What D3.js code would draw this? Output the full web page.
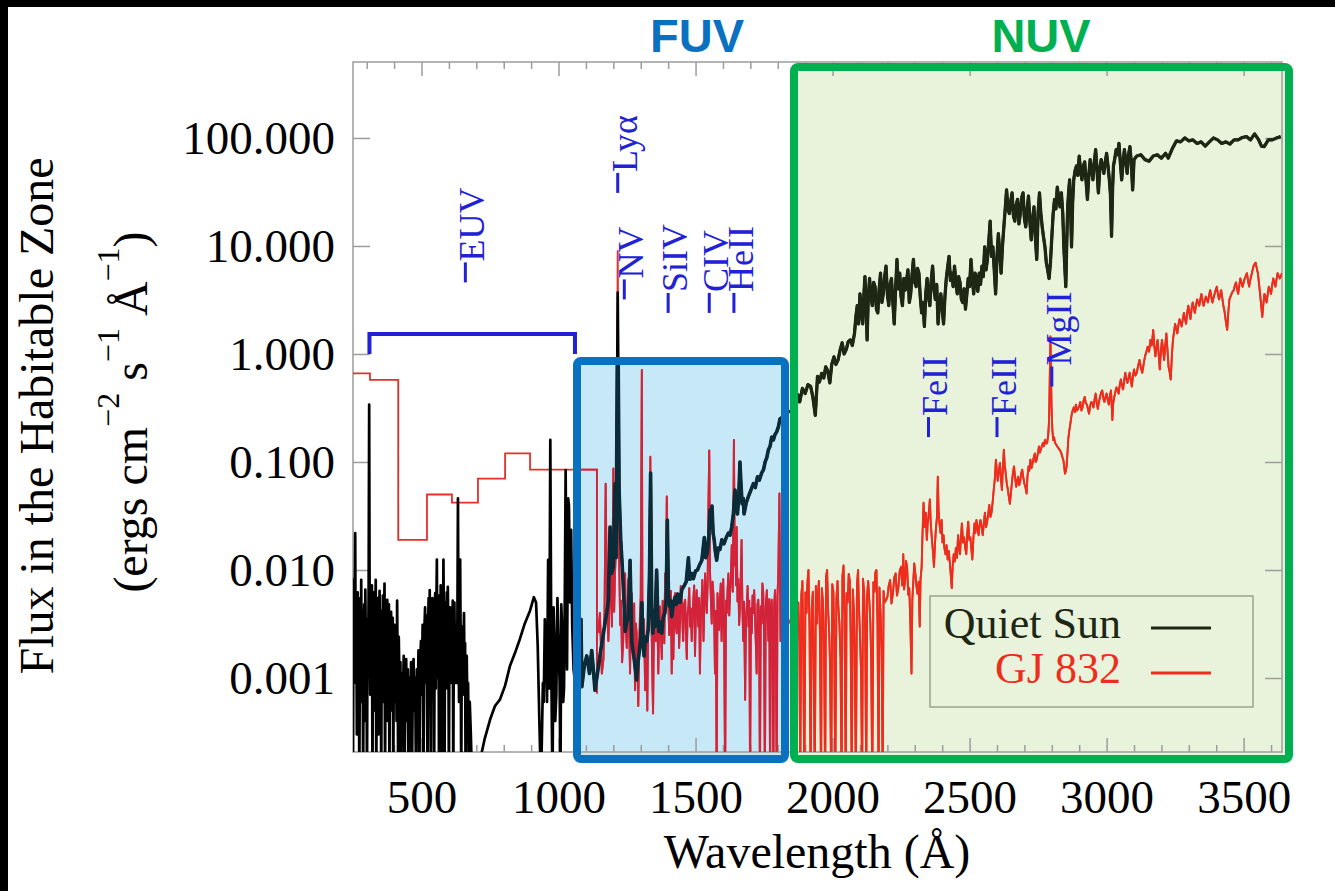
<!DOCTYPE html>
<html>
<head>
<meta charset="utf-8">
<script src="https://cdn.jsdelivr.net/npm/d3@7"></script>
<style>
  body { margin: 0; background: #fff; }
  svg { display: block; }
</style>
</head>
<body>
<div id="chart"></div>
<script>
// tick values
var xMajor = [500, 1000, 1500, 2000, 2500, 3000, 3500];
var xMinor = d3.range(300, 3700, 100).filter(function (d) { return d % 500 !== 0; });
var yTicks = [0.001, 0.01, 0.1, 1, 10, 100];

// Quiet Sun spectrum [wavelength (A), flux]
var quietSun = [
  [250,1e-4],[252,0.0081],[254,0.0012],[256,0.0035],[258,0.022],[260,0.0009],[262,0.0045],[264,0.0003],
  [267,0.0062],[269,0.0015],[271,0.0038],[273,1e-4],[276,0.0055],[278,0.0011],[280,0.0081],[282,0.0006],
  [285,0.0042],[287,1e-4],[289,0.0025],[291,0.0048],[293,0.0004],[295,0.0066],[297,0.0018],[299,0.0035],
  [301,1e-4],[303,0.0028],[305,0.0012],[307,0.0058],[309,0.34],[311,0.002],[313,0.0007],[315,0.0045],
  [317,0.0016],[319,0.0072],[321,1e-4],[323,0.0039],[325,0.0011],[327,0.0062],[329,0.0005],[331,0.0033],
  [333,0.0081],[335,1e-4],[337,0.0047],[339,0.0013],[341,0.0055],[343,0.0003],[345,0.0028],[347,0.0064],
  [349,0.0009],[351,0.0042],[353,1e-4],[355,0.0036],[357,0.0012],[359,0.0058],[361,0.0006],[363,0.0031],
  [365,0.0075],[367,1e-4],[369,0.0044],[371,0.001],[373,0.0022],[375,0.0053],[377,0.0004],[379,0.0036],
  [381,0.0048],[383,1e-4],[385,0.0027],[387,0.0009],[389,0.0041],[391,0.0005],[393,0.0024],[395,0.0036],
  [397,1e-4],[399,0.0019],[401,0.0031],[403,0.0006],[405,0.0019],[407,0.0028],[409,0.0004],[411,0.0052],
  [413,0.0011],[415,1e-4],[417,0.0024],[420,0.0008],[423,0.0014],[426,1e-4],[429,0.0011],[432,0.0006],
  [435,0.0016],[438,1e-4],[441,0.0009],[444,0.0015],[447,0.0004],[450,0.0012],[453,1e-4],[456,0.001],
  [459,0.0005],[462,0.0014],[465,1e-4],[468,0.0008],[471,0.0015],[474,0.0005],[477,0.001],[480,1e-4],
  [483,0.0012],[486,0.0006],[489,0.0018],[492,1e-4],[495,0.0014],[498,0.0022],[501,0.0007],[504,0.0031],
  [507,1e-4],[510,0.0026],[513,0.0045],[516,0.0009],[519,0.0038],[522,1e-4],[524,0.0031],[526,0.0055],
  [528,0.0012],[530,0.0065],[532,0.002],[534,1e-4],[536,0.0042],[538,0.0012],[540,0.0055],[542,0.0021],
  [544,0.0035],[546,1e-4],[548,0.0028],[550,0.0061],[552,0.0008],[554,0.004],[556,0.0125],[558,0.001],
  [560,0.0036],[562,0.0058],[564,1e-4],[566,0.0038],[568,0.0014],[570,0.0072],[572,0.003],[574,1e-4],
  [576,0.0048],[578,0.0016],[580,0.0125],[582,0.0022],[584,1e-4],[586,0.005],[588,0.0034],[590,0.0011],
  [592,0.0062],[594,0.0008],[596,0.007],[598,0.0025],[600,1e-4],[602,0.0031],[604,0.0045],[606,0.0009],
  [608,0.0038],[610,0.0012],[612,0.0029],[614,0.0052],[616,1e-4],[618,0.0034],[620,0.005],[622,0.0015],
  [624,0.0009],[626,0.0028],[628,0.0009],[631,0.0035],[633,0.046],[635,0.0022],[637,0.0006],[639,0.004],
  [641,0.0125],[643,0.0018],[645,1e-4],[647,0.0026],[649,0.003],[651,0.0007],[653,0.0018],[655,0.004],
  [657,0.0009],[659,0.0021],[661,1e-4],[663,0.0012],[665,0.0016],[668,0.0004],[670,0.0009],[673,1e-4],
  [676,0.0006],[680,0.0003],[685,1e-4],[700,1e-4],[715,0.00018],[730,0.00027],[750,0.00041],[768,0.00055],
  [786,0.00063],[805,0.00085],[823,0.0013],[841,0.0017],[859,0.0023],[877,0.0032],[896,0.0042],[910,0.0056],
  [918,0.005],[924,0.002],[930,0.0004],[936,1e-4],[943,0.0009],[946,0.0006],[950,0.0035],[955,0.0018],
  [958,0.0006],[962,0.0124],[966,0.0008],[970,0.16],[974,0.001],[978,1e-4],[982,0.0045],[985,0.0023],
  [988,0.0004],[992,0.0007],[996,0.0055],[1000,0.0022],[1004,0.0009],[1007,1e-4],[1010,0.0048],[1013,0.003],
  [1017,0.0006],[1020,0.0008],[1023,0.0062],[1026,0.084],[1029,0.0035],[1031,0.0012],[1035,0.046],
  [1038,0.04],[1042,0.005],[1046,0.0235],[1050,0.003],[1055,0.0012],[1060,0.0009],[1065,0.0011],
  [1070,0.0007],[1078,0.0009],[1082,0.0035],
  [1085,0.00083],[1094,0.0013],[1103,0.0016],[1113,0.0011],[1121,0.0018],[1127,0.0012],[1133,0.00077],
  [1142,0.0011],[1151,0.0016],[1158,0.0021],[1164,0.0026],[1170,0.0033],[1176,0.004],[1182,0.0053],
  [1188,0.025],[1194,0.0093],[1200,0.0107],[1206,0.063],[1210,0.013],[1216,3.7],[1221,0.055],[1227,0.019],
  [1234,0.0093],[1240,0.0045],[1243,0.0027],[1249,0.0033],[1255,0.0037],[1261,0.0123],[1267,0.0022],
  [1276,0.0015],[1285,0.00096],[1290,0.0014],[1295,0.0018],[1300,0.0024],[1304,0.005],[1308,0.0021],
  [1312,0.0016],[1317,0.0024],[1322,0.0022],[1327,0.0028],[1332,0.0093],[1336,0.079],[1340,0.0045],
  [1344,0.0026],[1348,0.0034],[1352,0.003],[1358,0.01],[1362,0.0038],[1366,0.0027],[1371,0.0033],
  [1377,0.0026],[1382,0.0036],[1388,0.004],[1393,0.0055],[1397,0.029],[1401,0.0062],[1405,0.0046],
  [1409,0.0052],[1413,0.0037],[1419,0.0049],[1425,0.0056],[1430,0.0048],[1434,0.006],[1439,0.0058],
  [1443,0.005],[1450,0.0066],[1458,0.0071],[1466,0.0078],[1474,0.013],[1478,0.0082],[1482,0.0083],
  [1487,0.0093],[1492,0.0083],[1500,0.0098],[1507,0.01],[1515,0.0112],[1523,0.0123],[1532,0.02],
  [1537,0.013],[1543,0.0145],[1548,0.02],[1553,0.036],[1556,0.025],[1560,0.039],[1564,0.022],[1568,0.019],
  [1572,0.015],[1577,0.0123],[1583,0.016],[1589,0.0155],[1596,0.019],[1604,0.0175],[1612,0.02],
  [1620,0.022],[1626,0.021],[1632,0.025],[1638,0.033],[1644,0.055],[1648,0.036],[1653,0.033],[1658,0.05],
  [1662,0.1],[1666,0.06],[1670,0.041],[1674,0.046],[1677,0.033],[1685,0.042],[1693,0.048],[1702,0.055],
  [1711,0.063],[1718,0.058],[1726,0.073],[1733,0.068],[1741,0.079],[1748,0.085],[1754,0.1],[1760,0.11],
  [1766,0.13],[1772,0.14],[1778,0.17],[1784,0.16],[1790,0.18],[1796,0.19],[1802,0.21],[1808,0.25],
  [1866,0.325],[1873,0.42],[1880,0.36],[1890,0.48],[1900,0.43],[1910,0.52],[1920,0.5],[1928,0.4],
  [1937,0.27],[1945,0.62],[1952,0.55],[1960,0.66],[1968,0.6],[1975,0.76],[1982,0.7],[1990,0.54],
  [1997,0.8],[2005,0.94],[2012,0.8],[2020,0.88],[2028,1.1],[2035,1.27],[2042,1.0],[2050,1.1],
  [2057,1.3],[2065,1.35],[2072,1.2],[2080,1.55],[2085,2.2],[2090,2.8],[2095,1.9],[2100,3.6],
  [2105,2.5],[2110,1.9],[2114,3.4],[2118,5.2],[2122,3.0],[2126,1.35],[2130,3.2],[2135,5.0],
  [2140,3.4],[2145,2.8],[2150,4.6],[2155,4.2],[2160,2.6],[2165,2.4],[2170,4.0],[2175,5.6],
  [2180,3.0],[2185,3.6],[2190,5.2],[2195,6.5],[2200,3.6],[2205,2.8],[2210,4.4],[2215,5.0],
  [2220,3.0],[2225,1.9],[2230,4.0],[2235,7.5],[2240,4.0],[2245,5.6],[2250,3.4],[2255,2.8],
  [2260,5.0],[2265,3.9],[2270,4.8],[2275,6.0],[2280,3.0],[2285,3.6],[2290,5.4],[2295,7.5],
  [2300,4.6],[2305,4.2],[2310,6.2],[2315,5.6],[2320,3.4],[2325,2.4],[2330,3.0],[2335,1.8],
  [2340,3.6],[2345,5.0],[2350,3.4],[2355,2.8],[2360,4.8],[2365,6.5],[2370,4.0],[2375,3.2],
  [2380,4.4],[2385,1.9],[2390,3.0],[2395,3.6],[2400,2.6],[2405,1.9],[2410,3.4],[2415,5.0],
  [2420,6.4],[2425,8.0],[2430,4.8],[2435,5.6],[2440,4.2],[2445,6.5],[2450,4.6],[2455,3.6],
  [2460,5.2],[2465,4.6],[2470,3.2],[2475,3.0],[2480,4.0],[2485,2.6],[2490,3.6],[2495,5.0],
  [2500,4.2],[2505,7.5],[2510,5.0],[2515,3.6],[2520,5.6],[2525,5.0],[2530,3.8],[2535,5.6],
  [2540,4.4],[2545,6.5],[2550,5.2],[2555,9.8],[2560,6.0],[2565,7.5],[2570,11],[2575,17],
  [2580,8.0],[2585,9.8],[2590,6.0],[2595,3.6],[2600,8.0],[2605,13],[2610,8.5],[2615,5.6],
  [2620,10],[2625,15],[2630,22],[2635,33],[2640,22],[2645,20],[2650,26],[2655,31],
  [2660,19],[2665,17],[2670,24],[2675,27],[2680,16],[2685,20],[2690,28],[2695,31],
  [2700,18],[2705,15],[2710,22],[2715,29],[2720,17],[2725,11.4],[2730,18],[2735,23],
  [2740,12],[2745,7.5],[2750,20],[2755,31],[2760,20],[2765,15],[2770,12],[2775,9.8],
  [2780,7.0],[2785,6.0],[2790,5.0],[2795,7.0],[2800,12],[2805,20],[2810,27],[2815,22],
  [2820,35],[2825,28],[2830,23],[2835,31],[2840,20],[2844,9.8],[2848,6.0],[2851,4.2],
  [2855,12],[2858,23],[2862,33],[2865,41],[2869,20],[2872,9.8],[2876,25],[2880,41],
  [2885,50],[2890,55],[2895,45],[2900,68],[2905,50],[2910,41],[2915,55],[2920,60],
  [2925,40],[2930,27],[2935,45],[2940,63],[2945,50],[2950,41],[2955,60],[2960,78],
  [2965,50],[2970,31],[2975,52],[2980,63],[2985,55],[2990,47],[2995,60],[3000,72],
  [3005,55],[3010,41],[3014,30],[3018,12.3],[3022,35],[3025,55],[3030,65],[3035,78],
  [3040,70],[3045,89],[3050,60],[3055,41],[3060,60],[3065,78],[3070,60],[3075,47],
  [3080,70],[3085,83],[3090,60],[3095,33],[3100,63],[3110,68],[3125,70],[3140,63],
  [3155,61],[3170,68],[3185,70],[3200,65],[3215,72],[3225,65],[3240,80],[3255,94],
  [3270,92],[3285,100],[3300,94],[3315,96],[3330,89],[3345,92],[3360,84],[3375,92],
  [3390,100],[3405,96],[3420,89],[3435,92],[3450,88],[3465,96],[3480,96],[3495,101],
  [3510,103],[3525,96],[3540,109],[3555,96],[3565,84],[3575,83],[3590,96],[3605,96],
  [3620,100],[3635,103]
];

// GJ 832 binned EUV estimate (step function)
var gj832Euv = [
  [250,0.66],[312,0.575],[415,0.019],[520,0.05],[611,0.042],[706,0.07],[805,0.12],[896,0.085],[1140,0.00072]
];

// GJ 832 spectrum [wavelength (A), flux]
var gj832 = [
  [1145,0.0026],[1151,0.004],[1158,0.0011],[1164,0.0015],[1168,0.0045],[1172,0.063],[1177,0.0046],
  [1182,0.0022],[1186,0.0052],[1190,0.0093],[1195,0.003],[1200,0.087],[1203,0.0041],[1206,0.0093],
  [1211,0.019],[1216,9.0],[1221,0.0134],[1225,0.0031],[1228,0.0052],[1232,0.0014],[1236,0.0022],
  [1240,0.0061],[1243,0.0093],[1246,0.0028],[1249,0.0019],[1252,0.0045],[1255,0.0082],[1258,0.0026],
  [1261,0.0011],[1264,0.0038],[1267,0.0061],[1270,0.0021],[1273,0.0028],[1276,0.0049],[1279,0.00077],
  [1282,0.0032],[1285,0.0026],[1288,0.0012],[1291,0.00055],[1294,0.0018],[1297,0.0037],[1300,0.0058],
  [1304,0.71],[1306,0.0051],[1309,0.0022],[1312,0.0035],[1316,0.00077],[1320,0.0024],[1324,0.0005],
  [1327,0.0031],[1330,0.004],[1335,0.112],[1338,0.0068],[1340,0.0026],[1342,0.0012],[1345,0.00047],
  [1348,0.0028],[1352,0.0046],[1355,0.0022],[1358,0.0061],[1361,0.0034],[1364,0.0011],[1367,0.0029],
  [1370,0.0046],[1374,0.0024],[1377,0.0015],[1380,0.0052],[1383,0.004],[1386,0.0021],[1389,0.0093],
  [1392,0.0058],[1395,0.048],[1398,0.012],[1401,0.0046],[1404,0.0025],[1407,0.0034],[1410,0.0064],
  [1413,0.0011],[1416,0.0035],[1419,0.0015],[1422,0.0042],[1425,0.0061],[1428,0.0031],[1431,0.0026],
  [1434,0.0058],[1437,0.0046],[1440,0.0019],[1443,0.0032],[1446,0.0071],[1449,0.0061],[1452,0.0034],
  [1455,0.0022],[1458,0.0048],[1462,0.0053],[1465,0.0027],[1468,0.0015],[1471,0.0039],[1474,0.0046],
  [1477,0.0068],[1480,0.003],[1483,0.0044],[1486,0.0022],[1489,0.0036],[1492,0.0053],[1495,0.0072],
  [1498,0.0016],[1501,0.0038],[1504,0.0065],[1507,0.0041],[1510,0.003],[1513,0.0055],[1516,0.0011],
  [1519,0.0033],[1522,0.0053],[1525,0.0081],[1529,0.0022],[1532,0.0047],[1535,0.0093],[1538,0.0056],
  [1541,0.004],[1544,0.0072],[1547,0.039],[1550,0.128],[1553,0.0093],[1556,0.0055],[1559,0.0032],
  [1562,0.0078],[1565,0.0061],[1568,0.0035],[1571,0.0011],[1574,0.0042],[1577,1e-4],[1580,0.0061],
  [1583,0.0046],[1586,0.0028],[1589,0.0053],[1592,0.0075],[1595,0.0022],[1598,0.0043],[1601,0.0082],
  [1604,0.0033],[1608,1e-4],[1611,0.0052],[1614,0.004],[1617,0.0067],[1620,0.0093],[1623,0.0038],
  [1626,0.0061],[1629,0.0085],[1632,0.017],[1636,0.0063],[1640,0.16],[1643,0.011],[1645,0.019],
  [1648,0.0072],[1650,0.025],[1653,0.0051],[1656,0.0082],[1659,0.0031],[1662,0.0046],[1665,0.0088],
  [1668,0.019],[1671,0.0045],[1674,0.0022],[1677,0.0051],[1681,0.00063],[1684,0.0035],[1687,0.0046],
  [1690,0.0071],[1693,0.003],[1696,0.0052],[1699,1e-4],[1702,0.0044],[1705,0.0026],[1708,0.0058],
  [1711,0.004],[1714,0.0065],[1717,0.0037],[1720,0.0021],[1723,0.0011],[1726,0.0048],[1729,0.0053],
  [1732,0.0028],[1735,1e-4],[1738,0.0046],[1741,0.0032],[1744,0.0075],[1747,0.0061],[1750,0.0025],
  [1753,1e-4],[1756,0.0045],[1760,0.0065],[1763,0.0038],[1766,0.0022],[1769,0.0054],[1772,1e-4],
  [1775,0.0041],[1778,0.0053],[1781,0.0027],[1784,1e-4],[1787,0.0048],[1790,0.0065],[1793,0.0031],
  [1796,1e-4],[1799,0.0058],[1802,0.0093],[1806,0.051],[1810,0.0022],
  [1875,0.005],[1879,0.0021],[1882,1e-4],[1886,0.0058],[1890,0.0079],[1893,0.0018],[1897,1e-4],
  [1901,0.0062],[1905,0.004],[1908,0.0075],[1912,0.01],[1916,0.0028],[1920,1e-4],[1924,0.0045],
  [1928,0.0063],[1931,0.0016],[1935,1e-4],[1939,0.0071],[1943,0.0032],[1946,0.0055],[1950,0.0079],
  [1954,0.0024],[1958,1e-4],[1961,0.0068],[1965,0.005],[1969,0.0019],[1973,1e-4],[1976,0.0085],
  [1980,0.01],[1984,0.0041],[1988,0.0025],[1991,0.0012],[1995,1e-4],[1999,0.0074],[2003,0.0063],
  [2006,0.0022],[2010,1e-4],[2014,0.0054],[2018,0.0079],[2021,0.0046],[2025,0.0032],[2029,0.0015],
  [2033,1e-4],[2036,0.0088],[2040,0.011],[2044,0.0036],[2048,1e-4],[2051,0.0061],[2055,0.005],
  [2059,0.0092],[2063,0.0079],[2066,0.0024],[2070,1e-4],[2074,0.0066],[2078,0.004],[2081,0.0017],
  [2085,1e-4],[2089,0.0072],[2093,0.01],[2096,0.0048],[2100,0.0025],[2104,0.0011],[2108,1e-4],
  [2111,0.0083],[2115,0.0063],[2119,0.0027],[2123,1e-4],[2126,0.0059],[2130,0.0079],[2134,0.0052],
  [2138,0.0032],[2141,0.0014],[2145,1e-4],[2149,0.0077],[2153,0.0063],[2156,0.0095],[2160,0.01],
  [2164,0.0031],[2168,1e-4],[2171,0.0069],[2175,0.004],[2179,0.0018],[2183,1e-4],[2186,0.0064],
  [2190,0.005],
  [2200,0.0056],[2205,0.0072],[2210,0.0081],[2215,0.0049],[2220,0.006],[2225,0.0085],[2230,0.0093],
  [2235,0.0058],[2240,0.0068],[2245,0.0098],[2250,0.0107],[2254,0.0072],[2258,0.014],[2261,0.0066],
  [2265,0.0081],[2268,0.0121],[2272,0.0107],[2276,0.0059],[2280,0.0068],[2284,0.0031],[2288,0.0011],
  [2291,0.0052],[2295,0.0081],[2298,0.0115],[2302,0.0093],[2306,0.0071],[2310,0.006],[2314,0.0078],
  [2318,0.003],[2321,0.0082],[2325,0.0107],[2328,0.021],[2332,0.042],[2336,0.025],[2340,0.034],
  [2344,0.019],[2347,0.027],[2351,0.033],[2355,0.045],[2358,0.028],[2362,0.02],[2366,0.015],
  [2370,0.0107],[2374,0.018],[2377,0.024],[2381,0.031],[2384,0.073],[2387,0.035],[2390,0.027],
  [2394,0.022],[2398,0.029],[2401,0.018],[2405,0.021],[2408,0.016],[2412,0.014],[2416,0.017],
  [2420,0.0125],[2424,0.015],[2428,0.0116],[2431,0.0092],[2435,0.0068],[2438,0.0105],[2442,0.014],
  [2446,0.012],[2450,0.016],[2454,0.013],[2458,0.021],[2461,0.017],[2465,0.014],[2468,0.019],
  [2472,0.027],[2476,0.018],[2480,0.02],[2484,0.016],[2488,0.014],[2491,0.021],[2495,0.028],
  [2499,0.019],[2503,0.02],[2506,0.016],[2510,0.0125],[2514,0.02],[2518,0.027],[2521,0.022],
  [2525,0.029],[2529,0.024],[2533,0.021],[2536,0.026],[2540,0.029],[2544,0.025],[2548,0.021],
  [2552,0.027],[2556,0.034],[2560,0.025],[2564,0.028],[2568,0.033],[2572,0.04],[2576,0.031],
  [2580,0.034],[2584,0.042],[2588,0.055],[2592,0.07],[2596,0.105],[2600,0.078],[2603,0.067],
  [2607,0.085],[2611,0.098],[2614,0.072],[2618,0.055],[2621,0.082],[2625,0.13],[2628,0.095],
  [2632,0.078],[2636,0.062],[2640,0.055],[2643,0.048],[2647,0.041],[2651,0.052],[2655,0.067],
  [2658,0.078],[2662,0.091],[2666,0.072],[2670,0.059],[2673,0.066],[2677,0.073],[2681,0.061],
  [2685,0.067],[2688,0.078],[2692,0.085],[2696,0.072],[2700,0.063],[2704,0.058],[2708,0.051],
  [2711,0.072],[2715,0.091],[2718,0.083],[2722,0.105],[2726,0.088],[2730,0.098],[2734,0.11],
  [2738,0.12],[2741,0.1],[2745,0.105],[2749,0.12],[2753,0.139],[2756,0.122],[2760,0.13],
  [2764,0.142],[2768,0.15],[2771,0.14],[2775,0.16],[2779,0.148],[2783,0.15],[2787,0.18],
  [2790,0.24],[2795,1.45],[2799,0.32],[2802,0.2],[2805,0.16],[2808,0.17],[2812,0.15],[2816,0.145],
  [2820,0.139],[2824,0.135],[2828,0.13],[2831,0.127],[2835,0.12],[2838,0.112],[2842,0.105],
  [2845,0.092],[2848,0.078],[2851,0.082],[2854,0.091],[2857,0.12],[2860,0.16],[2863,0.19],
  [2866,0.21],[2870,0.25],[2873,0.28],[2876,0.3],[2880,0.32],[2884,0.29],[2888,0.34],[2892,0.3],
  [2896,0.31],[2900,0.33],[2904,0.36],[2908,0.3],[2912,0.32],[2916,0.37],[2920,0.4],[2924,0.35],
  [2928,0.34],[2932,0.31],[2936,0.28],[2940,0.33],[2944,0.36],[2948,0.35],[2952,0.32],[2956,0.38],
  [2960,0.43],[2964,0.35],[2968,0.31],[2972,0.36],[2976,0.4],[2980,0.44],[2984,0.46],[2988,0.39],
  [2992,0.36],[2996,0.4],[3000,0.43],[3004,0.38],[3008,0.34],[3012,0.41],[3016,0.46],[3021,0.245],
  [3024,0.35],[3028,0.4],[3032,0.45],[3036,0.49],[3040,0.46],[3044,0.43],[3048,0.52],[3052,0.58],
  [3056,0.51],[3060,0.47],[3064,0.56],[3068,0.67],[3072,0.59],[3076,0.54],[3080,0.6],[3084,0.67],
  [3088,0.58],[3092,0.5],[3096,0.62],[3100,0.72],[3105,0.63],[3110,0.67],[3115,0.78],[3120,0.88],
  [3125,0.75],[3130,0.67],[3135,0.8],[3140,0.95],[3145,1.05],[3150,1.17],[3155,1.05],[3160,1.35],
  [3165,1.2],[3170,1.67],[3174,1.2],[3178,0.95],[3182,1.15],[3186,1.35],[3190,1.0],[3194,0.72],
  [3198,1.05],[3202,1.35],[3206,1.1],[3210,0.88],[3214,1.2],[3218,1.55],[3222,1.1],[3226,0.76],
  [3230,0.68],[3234,0.58],[3238,0.95],[3242,1.35],[3246,1.6],[3250,1.9],[3254,1.7],[3258,1.55],
  [3262,1.85],[3266,2.1],[3270,1.95],[3274,1.8],[3278,2.1],[3282,2.4],[3286,2.1],[3290,1.9],
  [3294,2.4],[3298,2.8],[3302,2.4],[3306,2.1],[3310,2.6],[3314,3.0],[3318,2.7],[3322,2.4],
  [3326,2.8],[3330,3.2],[3334,3.0],[3338,2.8],[3342,3.2],[3346,3.6],[3350,3.1],[3354,2.8],
  [3358,3.1],[3362,3.4],[3366,3.2],[3370,3.0],[3374,3.5],[3378,3.9],[3382,3.4],[3386,3.0],
  [3390,3.3],[3394,3.6],[3398,3.9],[3402,4.2],[3406,3.6],[3410,3.2],[3414,3.5],[3418,3.9],
  [3422,3.3],[3426,2.8],[3430,2.5],[3434,2.1],[3437,1.85],[3440,1.67],[3444,2.4],[3448,3.2],
  [3452,3.4],[3456,3.6],[3460,3.8],[3464,3.9],[3468,4.3],[3472,4.6],[3476,4.0],[3480,3.6],
  [3484,4.3],[3488,5.0],[3492,4.6],[3496,4.2],[3500,4.6],[3504,5.0],[3508,5.3],[3512,5.6],
  [3516,4.8],[3520,4.2],[3524,4.8],[3528,5.3],[3532,5.9],[3536,6.5],[3540,6.8],[3544,7.0],
  [3548,6.2],[3552,5.6],[3556,4.5],[3560,3.6],[3564,2.8],[3568,2.2],[3572,2.9],[3576,3.6],
  [3580,3.3],[3584,3.0],[3588,3.6],[3592,4.2],[3596,3.9],[3600,3.6],[3604,4.3],[3608,5.0],
  [3612,4.6],[3616,4.2],[3620,4.9],[3624,5.6],[3628,5.3],[3632,5.0],[3636,5.3],[3640,5.6]
];

// emission line labels
var lineNames = ['EUV', 'Lyα', 'NV', 'SiIV', 'CIV', 'HeII', 'FeII', 'FeII', 'MgII'];
var lineWaves = [660, 1216, 1240, 1400, 1550, 1640, 2350, 2600, 2800];
var lineFlux = [4.6, 31, 3.2, 2.4, 2.4, 2.4, 0.17, 0.17, 0.5];

// EUV bracket: wavelength span and flux levels
var euvSpan = [310, 1060];
var euvLevels = [1.0, 1.53];

var SERIF = '"Liberation Serif", "Times New Roman", serif';
var SANS = '"Liberation Sans", Arial, sans-serif';

var width = 1335, height = 891;
var plot = {left: 353, right: 1282, top: 62, bottom: 752};

var svg = d3.select('#chart').append('svg')
    .attr('width', width)
    .attr('height', height);

var x = d3.scaleLinear().domain([250, 3640]).range([plot.left, plot.right]);
var y = d3.scaleLog().domain([2.065e-4, 505]).range([plot.bottom, plot.top]);

// photo border
svg.append('rect').attr('x', 0).attr('y', 0).attr('width', width).attr('height', 7).style('fill', '#000');
svg.append('rect').attr('x', 0).attr('y', 0).attr('width', 8).attr('height', height).style('fill', '#000');

var fuvBox = {x: 577, y: 361, w: 208, h: 398};
var nuvBox = {x: 794, y: 67, w: 495, h: 692};

var defs = svg.append('defs');
defs.append('clipPath').attr('id', 'plot-clip').append('rect')
    .attr('x', plot.left).attr('y', plot.top)
    .attr('width', plot.right - plot.left).attr('height', plot.bottom - plot.top);
defs.append('clipPath').attr('id', 'fuv-clip').append('rect')
    .attr('x', fuvBox.x + 4).attr('y', fuvBox.y + 4)
    .attr('width', fuvBox.w - 8).attr('height', fuvBox.h - 8);
defs.append('clipPath').attr('id', 'nuv-clip').append('rect')
    .attr('x', nuvBox.x + 4).attr('y', nuvBox.y + 4)
    .attr('width', nuvBox.w - 8).attr('height', nuvBox.h - 8);

// box fills
svg.append('rect').attr('x', fuvBox.x).attr('y', fuvBox.y).attr('width', fuvBox.w).attr('height', fuvBox.h)
    .style('fill', '#c7e8f7');
svg.append('rect').attr('x', nuvBox.x).attr('y', nuvBox.y).attr('width', nuvBox.w).attr('height', nuvBox.h)
    .style('fill', '#e9f3dc');

// axes
var axes = svg.append('g');
axes.append('g').attr('transform', 'translate(0,' + plot.bottom + ')')
    .call(d3.axisBottom(x).tickValues(xMajor).tickSize(-14).tickPadding(28).tickFormat(d3.format('d')));
axes.append('g').attr('transform', 'translate(0,' + plot.bottom + ')')
    .call(d3.axisBottom(x).tickValues(xMinor).tickSize(-7).tickFormat(''));
axes.append('g').attr('transform', 'translate(0,' + plot.top + ')')
    .call(d3.axisTop(x).tickValues(xMajor).tickSize(-14).tickFormat(''));
axes.append('g').attr('transform', 'translate(0,' + plot.top + ')')
    .call(d3.axisTop(x).tickValues(xMinor).tickSize(-7).tickFormat(''));
axes.append('g').attr('transform', 'translate(' + plot.left + ',0)')
    .call(d3.axisLeft(y).tickValues(yTicks).tickSize(-17).tickPadding(18).tickFormat(d3.format('.3f')));
axes.append('g').attr('transform', 'translate(' + plot.right + ',0)')
    .call(d3.axisRight(y).tickValues(yTicks).tickSize(-17).tickFormat(''));
axes.selectAll('.domain').remove();
axes.selectAll('g').attr('font-family', null);
axes.selectAll('.tick line').style('stroke', '#9c9c9c').style('stroke-width', 1.5);
axes.selectAll('.tick text')
    .style('font-family', SERIF)
    .style('font-size', '47px')
    .style('fill', '#000');
axes.append('rect')
    .attr('x', plot.left).attr('y', plot.top)
    .attr('width', plot.right - plot.left).attr('height', plot.bottom - plot.top)
    .style('fill', 'none').style('stroke', '#9c9c9c').style('stroke-width', 1.5);

// spectra
var line = d3.line()
    .x(function (d) { return x(d[0]); })
    .y(function (d) { return y(d[1]); });
var stepLine = d3.line()
    .curve(d3.curveStepAfter)
    .x(function (d) { return x(d[0]); })
    .y(function (d) { return y(d[1]); });

var drawSpectra = function (g, sunColor, gjColor, sunWidth) {
  g.append('path').attr('d', stepLine(gj832Euv))
    .style('fill', 'none').style('stroke', gjColor).style('stroke-width', 1.8);
  g.append('path').attr('d', line(gj832))
    .style('fill', 'none').style('stroke', gjColor).style('stroke-width', 1.9)
    .style('stroke-linejoin', 'round');
  g.append('path').attr('d', line(quietSun))
    .style('fill', 'none').style('stroke', sunColor).style('stroke-width', sunWidth)
    .style('stroke-linejoin', 'round');
}

var spectra = svg.append('g').attr('clip-path', 'url(#plot-clip)');
drawSpectra(spectra, '#000', '#e5302a', 2.7);
drawSpectra(spectra.append('g').attr('clip-path', 'url(#fuv-clip)'), '#0c2b38', '#d2233a', 3.6);
drawSpectra(spectra.append('g').attr('clip-path', 'url(#nuv-clip)'), '#1d2713', '#ee2d1d', 3.3);

// line labels
var labelBlue = '#2121d6';
var labels = svg.append('g');
lineNames.forEach(function (name, i) {
  var sx = x(lineWaves[i]), sy = y(lineFlux[i]);
  labels.append('line')
    .attr('x1', sx).attr('x2', sx).attr('y1', sy).attr('y2', sy - 20)
    .style('stroke', labelBlue).style('stroke-width', 3);
  labels.append('text')
    .attr('transform', 'translate(' + (sx + 19) + ',' + (sy - 21) + ') rotate(-90)')
    .style('font-family', SERIF)
    .style('font-size', '36px')
    .style('fill', labelBlue)
    .text(name);
});

// EUV bracket
labels.append('path')
  .attr('d', 'M' + x(euvSpan[0]) + ',' + y(euvLevels[0]) +
             'V' + y(euvLevels[1]) +
             'H' + x(euvSpan[1]) +
             'V' + y(euvLevels[0]))
  .style('fill', 'none').style('stroke', labelBlue).style('stroke-width', 4);

// box outlines
svg.append('rect').attr('x', fuvBox.x).attr('y', fuvBox.y).attr('width', fuvBox.w).attr('height', fuvBox.h)
    .attr('rx', 4).style('fill', 'none').style('stroke', '#0a70c0').style('stroke-width', 8);
svg.append('rect').attr('x', nuvBox.x).attr('y', nuvBox.y).attr('width', nuvBox.w).attr('height', nuvBox.h)
    .attr('rx', 4).style('fill', 'none').style('stroke', '#00b050').style('stroke-width', 8);

// legend
var legend = svg.append('g');
legend.append('rect').attr('x', 930).attr('y', 596).attr('width', 323).attr('height', 111)
    .style('fill', 'none').style('stroke', '#9aa38c').style('stroke-width', 1.5);
var legendItems = [['Quiet Sun', '#1d2713'], ['GJ 832', '#ee2d1d']];
legendItems.forEach(function (item, i) {
  legend.append('text')
    .attr('x', 1121).attr('y', 638 + i * 45)
    .attr('text-anchor', 'end')
    .style('font-family', SERIF)
    .style('font-size', '44px').style('fill', item[1])
    .text(item[0]);
  legend.append('line')
    .attr('x1', 1151).attr('x2', 1211).attr('y1', 628 + i * 45).attr('y2', 628 + i * 45)
    .style('stroke', item[1]).style('stroke-width', 3);
});

// axis titles
svg.append('text')
  .attr('x', 817).attr('y', 868).attr('text-anchor', 'middle')
  .style('font-family', SERIF).style('font-size', '48px')
  .text('Wavelength (Å)');

svg.append('text')
  .attr('transform', 'translate(53,416) rotate(-90)')
  .attr('text-anchor', 'middle')
  .style('font-family', SERIF).style('font-size', '48px')
  .text('Flux in the Habitable Zone');

var units = svg.append('text')
  .attr('transform', 'translate(147,412) rotate(-90)')
  .attr('text-anchor', 'middle')
  .style('font-family', SERIF).style('font-size', '48px');
var unitParts = [['(ergs cm', false], ['−2', true], [' s', false], ['−1', true], [' Å', false], ['−1', true], [')', false]];
unitParts.forEach(function (p, i) {
  var prevSup = i > 0 && unitParts[i - 1][1];
  units.append('tspan')
    .attr('dy', p[1] ? -28 : (prevSup ? 28 : 0))
    .style('font-size', p[1] ? '32px' : '48px')
    .text(p[0]);
});

// region titles
svg.append('text').attr('x', 697).attr('y', 52).attr('text-anchor', 'middle')
  .style('font-family', SANS).style('font-weight', 'bold')
  .style('font-size', '47px').style('fill', '#0a70c0')
  .text('FUV');
svg.append('text').attr('x', 1041).attr('y', 52).attr('text-anchor', 'middle')
  .style('font-family', SANS).style('font-weight', 'bold')
  .style('font-size', '47px').style('fill', '#00b050')
  .text('NUV');
</script>
</body>
</html>
